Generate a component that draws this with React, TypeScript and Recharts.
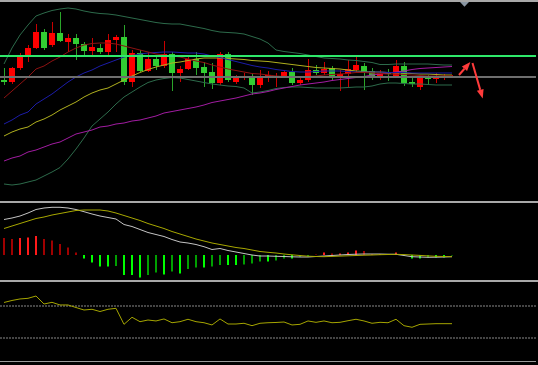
import React from 'react';
import {
  ComposedChart,
  Bar,
  Line,
  XAxis,
  YAxis,
  ReferenceLine,
  ReferenceDot,
  Cell,
} from 'recharts';

// price candles
const opens = [120, 118, 132, 144, 152, 168, 155, 167, 158, 162, 156, 149, 152, 148, 160, 163, 118, 147, 129, 141, 134, 146, 127, 131, 141, 133, 128, 117, 146, 118, 122, 124, 115, 123, 123.5, 124, 128, 117, 120, 130, 127, 132, 124, 126, 130, 134, 129, 123, 128, 124, 134, 118, 113, 123, 121, 122, 122.5];
const highs = [132, 133, 147, 155, 176, 171, 178, 188, 166, 166, 158, 162, 156, 166, 165, 175, 150, 150, 148, 144, 159, 148, 134, 145, 148, 138, 137, 148, 148, 125, 127, 127, 130, 129, 127, 130, 132, 123, 141, 135, 138, 134, 130, 140, 143, 137, 132, 130, 131, 140, 138, 122, 124, 125, 127, 126, 125];
const lows = [115, 116, 130, 138, 151, 150, 153, 158, 148, 140, 145, 145, 146, 145, 148, 115, 113, 128, 128, 130, 132, 109, 118, 130, 125, 113, 111, 115, 118, 116, 120, 105, 112, 118, 113, 122, 115, 115, 118, 125, 125, 120, 109, 113, 128, 110, 120, 120, 119, 122, 114, 113, 110, 115, 117, 120, 122];
const closes = [118, 132, 145, 152, 168, 152, 167, 159, 162, 156, 149, 153, 148, 160, 163, 118, 147, 129, 141, 134, 146, 127, 131, 141, 132, 127, 117, 146, 120, 123, 124, 115, 123, 125, 124, 128, 117, 120, 130, 127, 131, 123, 126, 131, 135, 128, 123, 127, 126, 134, 117, 116, 122, 121, 124, 123.5, 123.5];

// overlays
const bbUpper = [136, 152, 165, 175, 184, 187, 189.5, 191, 192, 191, 189, 187.5, 186.5, 186, 185, 183.5, 182, 180.5, 179, 177.5, 176.5, 176, 176, 174.5, 173, 171.5, 169.5, 168, 167.5, 167, 166, 163.5, 161, 157, 150, 148.5, 147.5, 146.5, 145, 143.5, 142, 141.5, 141, 140, 139.5, 138.5, 137.5, 135.5, 135.5, 136, 136, 136, 136, 136, 135.5, 135, 135];
const bbLower = [16, 15, 16, 18, 20, 24, 28, 32.5, 41, 51, 62, 74, 81, 88, 96, 103, 108, 113, 117.5, 120, 121.5, 122.5, 122, 120.5, 119, 117.5, 116, 115, 114, 113.5, 112, 107, 108, 109.5, 111.5, 112.5, 113, 113, 112.5, 112, 112, 112, 112, 112.5, 113, 113, 114, 116, 117, 117, 116.5, 116, 116, 115.5, 115, 115, 115];
const maFast = [102, 109, 116, 123, 131, 134, 139, 143, 148, 152, 155, 156.5, 157, 157, 156, 154, 152, 150, 148, 146, 145, 144, 143, 141, 139, 137.5, 135, 133, 131, 129.5, 128, 126.5, 126, 125, 124, 123.5, 123, 123, 123.5, 124, 125, 125.5, 126, 126.5, 127.5, 127.5, 127, 126.5, 126, 126, 125.5, 125, 124.5, 124, 124, 124, 124];
const maMid = [76, 80, 85, 88, 96, 101, 106, 112, 118, 123, 127, 130, 134, 137, 140, 143, 144.5, 146, 147, 147.5, 148, 148, 147.5, 147, 147, 146, 144, 142.5, 140.5, 138.5, 136.5, 134.5, 133, 132, 130.5, 129.5, 128.5, 128, 128, 128.5, 129, 129, 129, 128.5, 128, 128, 128, 128, 127.5, 127.5, 127.5, 127, 127, 127, 127, 127, 127];
const maSlow = [64, 68, 71, 73, 78, 81, 85, 90, 94, 98, 103, 107, 110, 112, 116, 120, 124, 127.5, 130.5, 133, 135, 137, 138, 139.5, 141, 142, 142, 142, 141.5, 141, 140.5, 139.5, 139, 138.5, 137.5, 136.5, 135.5, 134.5, 133.5, 132.5, 132, 131.5, 131, 130, 129, 128.5, 128, 128, 127.5, 127, 127, 126.5, 126, 126, 125.5, 125, 125];
const maLong = [39, 42, 44, 48, 50, 53, 56, 58, 62, 66, 68, 70, 73, 74, 76, 77, 79, 80, 82, 84, 87, 88.5, 90, 91.5, 93, 95, 97.5, 99, 100.5, 102, 104, 106, 107, 108.5, 110.5, 112, 113.5, 115, 116, 117, 118, 119.5, 120.5, 121.5, 122.5, 123.5, 125, 126, 127, 128, 129, 130.5, 131.5, 132, 132.5, 133, 133.5];

const resistanceLevel = 144;
const priceLevel = 123;

// MACD
const macdHist = [17, 16, 17, 17.5, 19, 16, 14.5, 11, 7.5, 2.5, -3.5, -7.5, -11.5, -11.5, -11, -20, -20, -22.5, -20, -17.5, -19.5, -16.5, -18.5, -14, -12.5, -12.5, -11.5, -10, -10, -10, -9.5, -8.5, -6.5, -6.5, -5.5, -3.5, -3.5, -2, -1.5, 0.5, 2.5, 1.5, 1.5, 2.5, 4.5, 4, 1, 1, 1, 2.5, -0.5, -3.5, -3.5, -2.5, -2.5, -2.5, -0.5];
const macdMain = [35.5, 37, 39, 42, 45.5, 47, 47.7, 47.7, 47, 45.5, 43.3, 41, 39, 37.5, 36, 30.5, 28.5, 25.5, 22.5, 20.5, 18.5, 15.5, 13, 12, 10.5, 8.3, 5.5, 6.5, 4.5, 3, 1.5, 0, -1, -1, -1.3, -1.5, -1.8, -2, -2, -1.5, -1, -0.5, 0, 0.5, 0.8, 1, 1, 1, 0.8, 0.7, -0.5, -1.7, -2, -2.3, -2.2, -2, -1.7];
const macdSignal = [26.5, 29, 31.5, 34, 36.5, 38, 40, 41.5, 43, 44.5, 45, 45, 45, 44, 42, 39.5, 37, 34.5, 31.5, 29, 26.5, 23.5, 21, 18.5, 16, 14, 12, 10.5, 9, 7.5, 6.5, 5, 3.5, 2.7, 2, 1, 0.2, -0.5, -1.2, -1.5, -1.7, -1.4, -1.1, -0.8, -0.5, -0.2, 0, 0.3, 0.5, 0.7, 0.4, 0, -0.4, -0.9, -1.3, -1.5, -1.7];

// RSI
const rsi = [74.4, 76.9, 78.8, 79.6, 82.5, 72.5, 74.6, 71.3, 71.3, 68.1, 65, 65.9, 63.1, 65.9, 67.1, 47.1, 55.9, 50.4, 52.5, 51.3, 53.8, 49.1, 50.4, 53.4, 50.4, 49.1, 46.3, 53.8, 47.5, 47.5, 48.4, 45.4, 48.4, 49.1, 49.4, 50, 46.3, 47.1, 51.3, 49.6, 51.3, 49.1, 49.6, 51.6, 53.4, 51.3, 48.4, 49.6, 49.1, 53.4, 45.4, 43.4, 47.1, 47.5, 47.9, 47.9, 47.9];
const rsiLevels = [70, 30];
const timeTicks = [0, 8, 16, 24, 32, 40, 48, 56];

const rows = opens.map((open, i) => ({
  i,
  open,
  high: highs[i],
  low: lows[i],
  close: closes[i],
  bbUpper: bbUpper[i],
  bbLower: bbLower[i],
  maFast: maFast[i],
  maMid: maMid[i],
  maSlow: maSlow[i],
  maLong: maLong[i],
  hist: macdHist[i],
  macd: macdMain[i],
  signal: macdSignal[i],
  rsi: rsi[i],
}));

const W = 536;
const X_DOMAIN: [number, number] = [-0.5, 66.5];
const NO_MARGIN = { top: 0, right: 0, bottom: 0, left: 0 };

const Candle = (props: any) => {
  const { x, y, width, height, payload } = props;
  if (!payload || payload.open == null) return null;
  const { open, close, high, low } = payload;
  const top = Math.min(y, y + height);
  const span = Math.abs(height);
  const k = high === low ? 0 : span / (high - low);
  const yOf = (v: number) => top + (high - v) * k;
  const up = close >= open;
  const body = up ? '#ff0000' : '#32cd32';
  const wick = up ? '#c80000' : '#2aa52a';
  const bx = Math.round(x);
  const cx = bx + Math.floor(width / 2) + 0.5;
  const bTop = yOf(Math.max(open, close));
  const bH = Math.max(1, Math.abs(yOf(open) - yOf(close)));
  return (
    <g>
      <line x1={cx} x2={cx} y1={top} y2={top + span} stroke={wick} strokeWidth={1} />
      <rect x={bx} y={bTop} width={width} height={bH} fill={body} />
    </g>
  );
};

const Arrow = (p: any) => {
  const { x1, y1, x2, y2 } = p;
  const a = Math.atan2(y2 - y1, x2 - x1);
  const len = 9;
  const half = 3.5;
  const bx = x2 - len * Math.cos(a);
  const by = y2 - len * Math.sin(a);
  const nx = -Math.sin(a) * half;
  const ny = Math.cos(a) * half;
  return (
    <g>
      <line x1={x1} y1={y1} x2={bx} y2={by} stroke="#ff3b3b" strokeWidth={2} />
      <polygon points={`${x2},${y2} ${bx + nx},${by + ny} ${bx - nx},${by - ny}`} fill="#ff3b3b" />
    </g>
  );
};

const ShiftMark = (p: any) => {
  const { cx, cy } = p;
  return <polygon points={`${cx - 4.5},${cy - 2} ${cx + 4.5},${cy - 2} ${cx},${cy + 2.7}`} fill="#8a96a3" />;
};

const histColor = (v: number, i: number) => {
  const prev = i > 0 ? Math.abs(macdHist[i - 1]) : Infinity;
  const bright = Math.abs(v) >= prev;
  if (v >= 0) return bright ? '#ff1a1a' : '#a00000';
  return bright ? '#00ff00' : '#00a000';
};

const sep = (top: number): React.CSSProperties => ({
  position: 'absolute',
  left: 0,
  top,
  width: 538,
  height: 2,
  background: '#a8a8a8',
});

export default function App() {
  return (
    <div style={{ position: 'fixed', left: 0, top: 0, width: 538, height: 365, background: '#000', overflow: 'hidden' }}>
      <div style={sep(0)} />
      <div style={sep(201)} />
      <div style={sep(280)} />

      <div style={{ position: 'absolute', left: 0, top: 0 }}>
        <ComposedChart width={W} height={200} data={rows} margin={NO_MARGIN}>
          <XAxis type="number" dataKey="i" domain={X_DOMAIN} hide allowDataOverflow />
          <YAxis type="number" domain={[0, 200]} hide allowDataOverflow />
          <Bar dataKey={(d: any) => [d.low, d.high]} barSize={6} shape={<Candle />} isAnimationActive={false} />
          <Line dataKey="bbUpper" stroke="#2d6b4b" strokeWidth={1} dot={false} activeDot={false} isAnimationActive={false} />
          <Line dataKey="bbLower" stroke="#2d6b4b" strokeWidth={1} dot={false} activeDot={false} isAnimationActive={false} />
          <Line dataKey="maLong" stroke="#a21ca2" strokeWidth={1} dot={false} activeDot={false} isAnimationActive={false} />
          <Line dataKey="maSlow" stroke="#b0b01e" strokeWidth={1} dot={false} activeDot={false} isAnimationActive={false} />
          <Line dataKey="maMid" stroke="#1c1ca8" strokeWidth={1} dot={false} activeDot={false} isAnimationActive={false} />
          <Line dataKey="maFast" stroke="#8e1212" strokeWidth={1} dot={false} activeDot={false} isAnimationActive={false} />
          <ReferenceLine y={resistanceLevel} stroke="#2ee86a" strokeWidth={2} />
          <ReferenceLine y={priceLevel} stroke="#6e6e6e" strokeWidth={2} />
          <ReferenceLine segment={[{ x: 56.875, y: 125 }, { x: 58.3, y: 138 }]} shape={Arrow} />
          <ReferenceLine segment={[{ x: 58.56, y: 137 }, { x: 59.84, y: 101.5 }]} shape={Arrow} />
          <ReferenceDot x={57.56} y={196} r={4} shape={ShiftMark} />
        </ComposedChart>
      </div>

      <div style={{ position: 'absolute', left: 0, top: 203 }}>
        <ComposedChart width={W} height={77} data={rows} margin={NO_MARGIN}>
          <XAxis type="number" dataKey="i" domain={X_DOMAIN} hide allowDataOverflow />
          <YAxis type="number" domain={[-25, 52]} hide allowDataOverflow />
          <Bar dataKey="hist" barSize={2} isAnimationActive={false}>
            {rows.map((r, i) => (
              <Cell key={i} fill={histColor(r.hist, i)} />
            ))}
          </Bar>
          <Line dataKey="macd" stroke="#c4c4c4" strokeWidth={1} dot={false} activeDot={false} isAnimationActive={false} />
          <Line dataKey="signal" stroke="#a8a800" strokeWidth={1} dot={false} activeDot={false} isAnimationActive={false} />
        </ComposedChart>
      </div>

      <div style={{ position: 'absolute', left: 0, top: 282 }}>
        <ComposedChart width={W} height={80} data={rows} margin={NO_MARGIN}>
          <XAxis
            type="number"
            dataKey="i"
            domain={X_DOMAIN}
            allowDataOverflow
            mirror
            ticks={timeTicks}
            tick={false}
            tickSize={2}
            tickLine={{ stroke: '#d0d0d0' }}
            axisLine={{ stroke: '#9a9a9a', strokeWidth: 2 }}
          />
          <YAxis type="number" domain={[0, 100]} hide allowDataOverflow />
          {rsiLevels.map((lv) => (
            <ReferenceLine key={lv} y={lv} stroke="#8a8a8a" strokeDasharray="2 1" />
          ))}
          <Line dataKey="rsi" stroke="#a5a500" strokeWidth={1} dot={false} activeDot={false} isAnimationActive={false} />
        </ComposedChart>
      </div>
    </div>
  );
}
